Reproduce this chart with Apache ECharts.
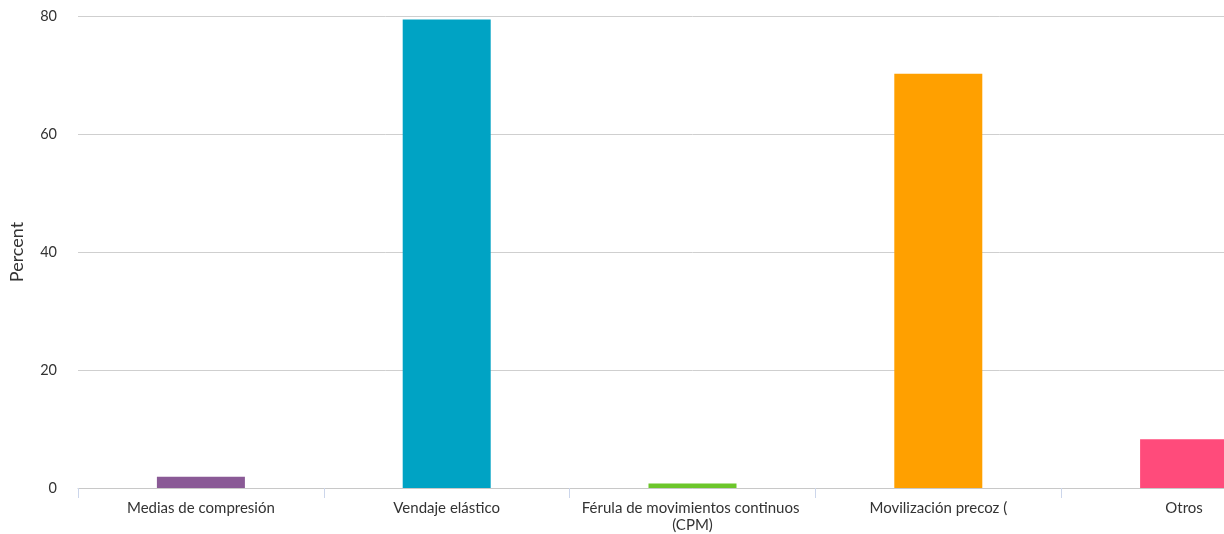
<!DOCTYPE html>
<html>
<head>
<meta charset="utf-8">
<script src="https://cdn.jsdelivr.net/npm/echarts@6/dist/echarts.min.js"></script>
<style>
html,body{margin:0;padding:0;background:#fff;overflow:hidden;width:1224px;height:534px;}
#chart{width:1307px;height:534px;}
</style>
</head>
<body>
<div id="chart"></div>
<script>
const categories = ["Medias de compresión", "Vendaje elástico", "Férula de movimientos continuos (CPM)", "Movilización precoz (", "Otros"];
const values = [1.9, 79.4, 0.75, 70.2, 8.25];
const colors = ["#8a5a96", "#00a3c4", "#6cc62b", "#ffa000", "#ff4b7b"];
const yTicks = [0, 20, 40, 60, 80];

const chart = echarts.init(document.getElementById('chart'));
chart.setOption({
  animation: false,
  backgroundColor: '#fff',
  textStyle: { fontFamily: 'Lato' },
  grid: { left: 78, top: 16, bottom: 46, right: 0, containLabel: false, outerBoundsMode: 'none' },
  xAxis: {
    type: 'category',
    data: categories,
    axisLine: { lineStyle: { color: '#c8c8c8', width: 1 } },
    axisTick: { show: true, length: 10, lineStyle: { color: '#ccd6eb' } },
    axisLabel: {
      color: '#333', fontSize: 15, fontFamily: 'Lato', margin: 12,
      width: 238, overflow: 'break', lineHeight: 17, interval: 0
    }
  },
  yAxis: {
    type: 'value',
    min: yTicks[0],
    max: yTicks[yTicks.length - 1],
    interval: 20,
    name: 'Percent',
    nameLocation: 'middle',
    nameRotate: 90,
    nameGap: 52,
    nameTextStyle: { color: '#333', fontSize: 18, fontFamily: 'Lato' },
    axisLine: { show: false },
    axisTick: { show: false },
    axisLabel: { color: '#333', fontSize: 14.5, fontFamily: 'Lato', margin: 21 },
    splitLine: { lineStyle: { color: '#cfcfcf', width: 1 } }
  },
  series: [{
    type: 'bar',
    barWidth: 88,
    data: values.map((v, i) => ({ value: v, itemStyle: { color: colors[i] } }))
  }]
});
</script>
</body>
</html>
